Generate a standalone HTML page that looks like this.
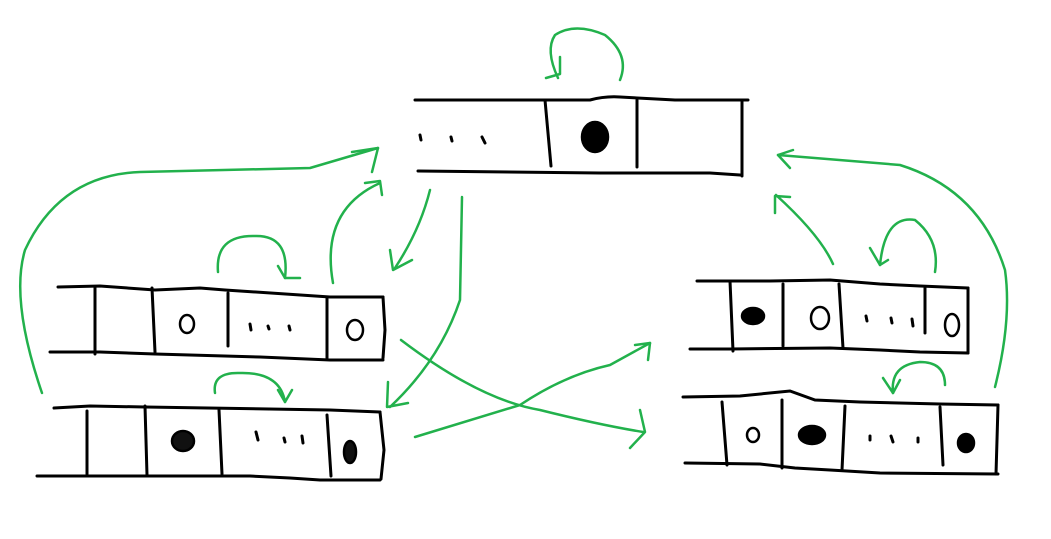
<!DOCTYPE html>
<html><head><style>html,body{margin:0;padding:0;background:#fff;}svg{display:block}</style></head>
<body>
<svg width="1051" height="539" viewBox="0 0 1051 539" xmlns="http://www.w3.org/2000/svg">
<g fill="none" stroke="#000" stroke-width="3" stroke-linecap="round">
<path d="M415 100 L590 100 Q605 96 620 97 L675 100 L748 100"/>
<path d="M418 171 L600 173 L710 173 L740 175"/>
<path d="M545 100 L548 133 L551 166"/><path d="M637 100 L637 167"/><path d="M742 100 L742 176"/>
<path d="M58 287 L100 286 L155 290 L200 288 L225 290 L330 297 L383 297"/>
<path d="M50 352 L100 352 L155 354 L260 357 L330 360 L383 360"/>
<path d="M383 297 L385 330 L383 358"/>
<path d="M95 287 L95 354"/><path d="M152 288 L155 352"/><path d="M228 293 L228 346"/><path d="M327 297 L327 358"/>
<path d="M54 408 L90 406 L145 407 L330 410 L380 412"/>
<path d="M37 476 L155 476 L250 476 L290 478 L320 480 L380 480"/>
<path d="M380 412 L384 450 L381 479"/>
<path d="M87 411 L87 474"/><path d="M145 406 L147 475"/><path d="M219 410 L222 474"/><path d="M327 415 L331 476"/>
<path d="M697 281 L770 281 L830 280 L880 284 L920 286 L968 288"/>
<path d="M690 349 L730 349 L830 348 L880 350 L920 352 L968 353"/>
<path d="M968 288 L968 353"/>
<path d="M730 281 L733 351"/><path d="M783 284 L783 346"/><path d="M839 284 L843 348"/><path d="M925 288 L925 333"/>
<path d="M683 397 L740 396 L790 391 L815 400 L860 402 L940 404 L998 405"/>
<path d="M685 463 L760 464 L795 468 L830 470 L880 473 L998 474"/>
<path d="M998 405 L997 440 L996 474"/>
<path d="M722 402 L727 465"/><path d="M782 400 L782 468"/><path d="M845 406 L842 470"/><path d="M940 407 L943 465"/>
<path d="M420 135 L421 140 M451 137 L452 141 M482 137 L485 143"/>
<path d="M250 324 L251 330 M268 326 L269 329 M289 326 L290 330"/>
<path d="M256 432 L258 440 M284 438 L285 442 M302 436 L303 443"/>
<path d="M866 316 L867 321 M891 318 L892 323 M912 319 L913 326"/>
<path d="M870 436 L870 440 M891 436 L893 442 M918 438 L918 442"/>
</g>
<g stroke="#000" stroke-width="2.5">
<ellipse cx="595" cy="137" rx="13" ry="15" fill="#000"/>
<ellipse cx="187" cy="324" rx="7" ry="9" fill="none"/>
<ellipse cx="355" cy="330" rx="8" ry="10" fill="none"/>
<ellipse cx="183" cy="441" rx="11" ry="10" fill="#111"/>
<ellipse cx="350" cy="452" rx="6" ry="11" fill="#111"/>
<ellipse cx="753" cy="316" rx="11" ry="8" fill="#000"/>
<ellipse cx="820" cy="318" rx="9" ry="11" fill="none"/>
<ellipse cx="952" cy="325" rx="7" ry="11" fill="none"/>
<ellipse cx="753" cy="435" rx="6" ry="7" fill="none"/>
<ellipse cx="812" cy="435" rx="13" ry="9" fill="#000"/>
<ellipse cx="966" cy="443" rx="8" ry="9" fill="#000"/>
</g>
<g fill="none" stroke="#22b14c" stroke-width="2.5" stroke-linecap="round" stroke-linejoin="round">
<path d="M558 78 Q545 50 555 35 Q575 22 605 35 Q630 55 620 80"/><path d="M546 78 L560 74 L560 57"/>
<path d="M42 393 Q10 300 25 250 Q60 175 140 172 L310 168 L378 148"/><path d="M352 152 L378 148 L372 172"/>
<path d="M333 283 Q320 210 380 183"/><path d="M365 183 L380 181 L382 195"/>
<path d="M430 190 Q420 230 395 268"/><path d="M390 250 L393 270 L412 260"/>
<path d="M462 197 L460 300 Q440 360 390 407"/><path d="M388 382 L387 407 L408 403"/>
<path d="M218 272 Q215 235 255 236 Q290 235 285 278"/><path d="M278 266 L285 278 L300 278"/>
<path d="M215 393 Q212 372 240 373 Q280 372 285 402"/><path d="M278 390 L285 402 L292 390"/>
<path d="M401 340 Q480 400 540 410 Q600 425 643 432"/><path d="M640 410 L645 432 L630 448"/>
<path d="M415 437 Q470 420 520 405 Q565 375 610 365 L650 343"/><path d="M635 345 L650 343 L648 360"/>
<path d="M833 264 Q820 235 776 195"/><path d="M775 213 L775 196 L790 197"/>
<path d="M935 272 Q940 240 915 220 Q885 215 880 265"/><path d="M870 248 L880 265 L888 260"/>
<path d="M945 385 Q945 362 920 362 Q890 365 893 393"/><path d="M883 378 L893 393 L900 380"/>
<path d="M995 387 Q1012 320 1005 270 Q980 190 900 165 L778 155"/><path d="M793 150 L778 155 L790 168"/>
</g>
</svg>
</body></html>
